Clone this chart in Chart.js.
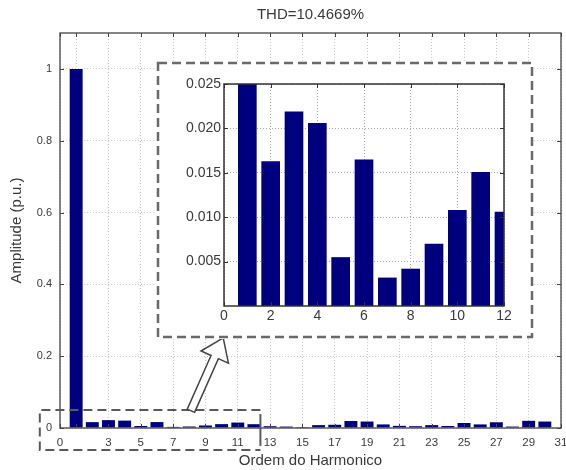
<!DOCTYPE html>
<html><head><meta charset="utf-8">
<script src="https://cdn.jsdelivr.net/npm/chart.js@4"></script>
<style>
html,body{margin:0;padding:0;background:#fff;}
#wrap{position:relative;width:566px;height:470px;overflow:hidden;}
#main{position:absolute;left:0;top:0;}
#inset{position:absolute;left:156px;top:61px;background:#fff;}
</style></head><body>
<div id="wrap">
<canvas id="main" width="566" height="470"></canvas>
<canvas id="inset" width="378" height="278"></canvas>
</div>
<script>
const chartTitle = 'THD=10.4669%';
const xAxisTitle = 'Ordem do Harmonico';
const yAxisTitle = 'Amplitude (p.u.)';
const harmonicOrders = [1,2,3,4,5,6,7,8,9,10,11,12,13,14,15,16,17,18,19,20,21,22,23,24,25,26,27,28,29,30];
const amplitudes = [1.0,0.0163,0.0219,0.0206,0.0055,0.0165,0.0032,0.0042,0.0070,0.0108,0.0151,0.0106,
                    0.0050,0.0040,0.0025,0.0080,0.0090,0.0195,0.0180,0.0100,0.0060,0.0050,0.0080,0.0055,
                    0.0140,0.0100,0.0160,0.0040,0.0200,0.0180];
const mainXTicks = [0,1,3,5,7,9,11,13,15,17,19,21,23,25,27,29,31];
const mainYTicks = [0,0.2,0.4,0.6,0.8,1];
const insetXTicks = [0,2,4,6,8,10,12];
const insetYTicks = [0.005,0.010,0.015,0.020,0.025];

const FONT = "'Liberation Sans', Arial, sans-serif";
const TXT = '#3a3a3a';
const BAR = '#00007f';

const points = harmonicOrders.map((h, i) => ({x: h, y: amplitudes[i]}));

const framePlugin = {
  id: 'frame',
  afterDatasetsDraw(chart, args, opts) {
    const {ctx, chartArea: a, scales} = chart;
    ctx.save();
    ctx.strokeStyle = opts.color;
    ctx.lineWidth = 1;
    ctx.beginPath();
    scales.x.ticks.forEach(t => {
      const px = Math.round(scales.x.getPixelForValue(t.value)) + 0.5;
      ctx.moveTo(px, a.bottom); ctx.lineTo(px, a.bottom - opts.tick);
      ctx.moveTo(px, a.top); ctx.lineTo(px, a.top + opts.tick);
    });
    scales.y.ticks.forEach(t => {
      const py = Math.round(scales.y.getPixelForValue(t.value)) + 0.5;
      ctx.moveTo(a.left, py); ctx.lineTo(a.left + opts.tick, py);
      ctx.moveTo(a.right, py); ctx.lineTo(a.right - opts.tick, py);
    });
    ctx.stroke();
    ctx.lineWidth = opts.width;
    ctx.strokeRect(a.left, a.top, a.right - a.left, a.bottom - a.top);
    ctx.restore();
  }
};

const mainDecor = {
  id: 'mainDecor',
  afterDraw(chart) {
    const {ctx, chartArea: a, scales: {x, y}} = chart;
    ctx.save();
    // title centered over plot area
    ctx.fillStyle = TXT;
    ctx.font = '15px ' + FONT;
    ctx.textAlign = 'center';
    ctx.textBaseline = 'middle';
    ctx.fillText(chartTitle, (a.left + a.right) / 2, 15);
    // zoom region box (dashed)
    const bx0 = x.getPixelForValue(-1.25), bx1 = x.getPixelForValue(12.4);
    const by0 = y.getPixelForValue(0.05), by1 = y.getPixelForValue(-0.061);
    ctx.strokeStyle = '#5a5a5a';
    ctx.lineWidth = 2;
    ctx.setLineDash([9, 5]);
    ctx.beginPath();
    ctx.moveTo(bx1, by0); ctx.lineTo(bx0, by0); ctx.lineTo(bx0, by1); ctx.lineTo(bx1, by1);
    ctx.stroke();
    ctx.setLineDash([]);
    ctx.beginPath();
    ctx.moveTo(bx1, by0 + 4); ctx.lineTo(bx1, by1 - 4);
    ctx.stroke();
    // hollow arrow from zoom box to inset
    const tx = x.getPixelForValue(8.1), ty = y.getPixelForValue(0.048);
    const hx = x.getPixelForValue(10.1), hy = y.getPixelForValue(0.251);
    const dx = hx - tx, dy = hy - ty, len = Math.hypot(dx, dy);
    const ux = dx / len, uy = dy / len, nx = -uy, ny = ux;
    const hl = 21, hw = 15, sw = 4;
    const bxh = hx - ux * hl, byh = hy - uy * hl;
    const pts = [
      [tx + nx * sw, ty + ny * sw],
      [bxh + nx * sw, byh + ny * sw],
      [bxh + nx * hw, byh + ny * hw],
      [hx, hy],
      [bxh - nx * hw, byh - ny * hw],
      [bxh - nx * sw, byh - ny * sw],
      [tx - nx * sw, ty - ny * sw]
    ];
    ctx.beginPath();
    pts.forEach((p, i) => i ? ctx.lineTo(p[0], p[1]) : ctx.moveTo(p[0], p[1]));
    ctx.closePath();
    ctx.fillStyle = '#fff';
    ctx.fill();
    ctx.strokeStyle = '#444';
    ctx.lineWidth = 1.5;
    ctx.stroke();
    ctx.restore();
  }
};

const insetDecor = {
  id: 'insetDecor',
  afterDraw(chart) {
    const {ctx, width, height} = chart;
    ctx.save();
    ctx.strokeStyle = '#6a6a6a';
    ctx.lineWidth = 2.5;
    ctx.setLineDash([9, 5]);
    ctx.strokeRect(2, 2, width - 4, height - 4);
    ctx.restore();
  }
};

new Chart(document.getElementById('main'), {
  type: 'bar',
  data: { datasets: [{ data: points, backgroundColor: BAR, borderWidth: 0,
    barPercentage: 0.8, categoryPercentage: 1.0 }] },
  options: {
    responsive: false, animation: false, devicePixelRatio: 1,
    layout: { padding: { left: 0, right: 5, top: 33, bottom: 0 } },
    plugins: { legend: { display: false }, tooltip: { enabled: false }, title: { display: false },
      frame: { color: '#444', width: 1.3, tick: 4 } },
    scales: {
      x: {
        type: 'linear', min: 0, max: 31, offset: false,
        afterBuildTicks: s => { s.ticks = mainXTicks.map(v => ({ value: v })); },
        afterFit: s => { s.height = 42; s.paddingLeft = 0; s.paddingRight = 0; },
        grid: { offset: false, color: '#cacaca', drawTicks: false, lineWidth: 1 },
        border: { display: false, dash: [1, 2] },
        ticks: { autoSkip: false, maxRotation: 0, padding: 8, color: TXT,
          font: { family: FONT, size: 11.5 }, callback: v => (v === 1 ? '' : String(v)) },
        title: { display: true, text: xAxisTitle, color: TXT, font: { family: FONT, size: 15 },
          padding: { top: 0, bottom: 0 } }
      },
      y: {
        type: 'linear', min: 0, max: 1.1,
        afterBuildTicks: s => { s.ticks = mainYTicks.map(v => ({ value: v })); },
        afterFit: s => { s.width = 60; s.paddingTop = 0; s.paddingBottom = 0; },
        grid: { color: '#cacaca', drawTicks: false, lineWidth: 1 },
        border: { display: false, dash: [1, 2] },
        ticks: { padding: 8, color: TXT, font: { family: FONT, size: 11 }, callback: v => String(v) },
        title: { display: true, text: yAxisTitle, color: TXT, font: { family: FONT, size: 15 },
          padding: { top: 8, bottom: 0 } }
      }
    }
  },
  plugins: [framePlugin, mainDecor]
});

new Chart(document.getElementById('inset'), {
  type: 'bar',
  data: { datasets: [{ data: points, backgroundColor: BAR, borderWidth: 0,
    barPercentage: 0.8, categoryPercentage: 1.0 }] },
  options: {
    responsive: false, animation: false, devicePixelRatio: 1,
    layout: { padding: { left: 0, right: 30, top: 23, bottom: 0 } },
    plugins: { legend: { display: false }, tooltip: { enabled: false }, title: { display: false },
      frame: { color: '#333', width: 1.5, tick: 4 } },
    scales: {
      x: {
        type: 'linear', min: 0, max: 12, offset: false,
        afterBuildTicks: s => { s.ticks = insetXTicks.map(v => ({ value: v })); },
        afterFit: s => { s.height = 33; s.paddingLeft = 0; s.paddingRight = 0; },
        grid: { offset: false, color: '#a8a8a8', drawTicks: false },
        border: { display: false, dash: [1, 2] },
        ticks: { autoSkip: false, maxRotation: 0, padding: 2, color: TXT,
          font: { family: FONT, size: 14 }, callback: v => String(v) }
      },
      y: {
        type: 'linear', min: 0, max: 0.025,
        afterBuildTicks: s => { s.ticks = insetYTicks.map(v => ({ value: v })); },
        afterFit: s => { s.width = 68; s.paddingTop = 0; s.paddingBottom = 0; },
        grid: { color: '#a8a8a8', drawTicks: false },
        border: { display: false, dash: [1, 2] },
        ticks: { padding: 3, color: TXT, font: { family: FONT, size: 14 }, callback: v => v.toFixed(3) }
      }
    }
  },
  plugins: [framePlugin, insetDecor]
});
</script>
</body></html>
